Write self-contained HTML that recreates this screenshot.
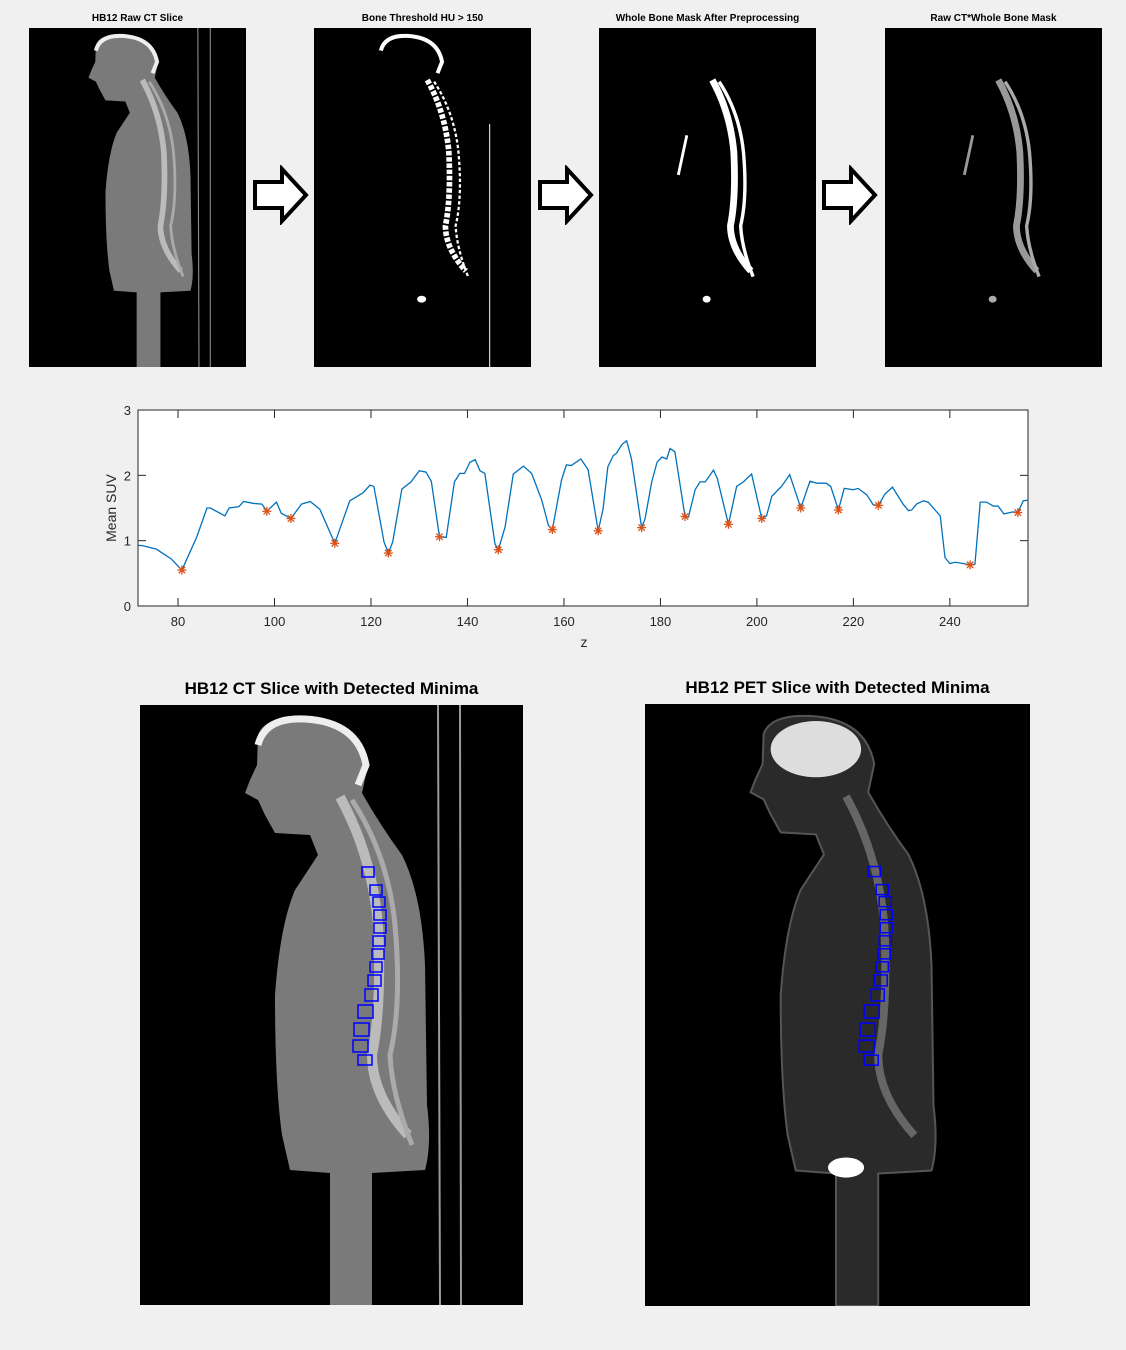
<!DOCTYPE html>
<html><head><meta charset="utf-8"><style>
body{margin:0;background:#f0f0f0;width:1126px;height:1350px;overflow:hidden;font-family:"Liberation Sans",sans-serif}
.t{position:absolute;font-weight:bold;color:#000;text-align:center}
svg{position:absolute}
</style></head><body>
<svg width="0" height="0" style="position:absolute">
<defs>
<path id="body" d="M118,30 Q125,10 165,12 Q220,15 228,60 L222,88 Q240,120 262,150 Q282,190 285,260 L287,400 Q292,440 285,465 L232,468 L232,600 L190,600 L190,468 L150,465 L142,430 Q135,380 135,290 Q140,220 155,185 L178,150 L170,130 L135,128 L125,110 L118,95 L105,88 L110,75 L117,60 Z"/>
<path id="skull" d="M118,40 Q125,12 165,14 Q218,17 226,60 L218,80"/>
<path id="spine" d="M200,92 Q232,150 238,220 Q242,300 232,350 Q232,390 268,430"/>
<path id="spine2" d="M212,95 Q248,150 255,220 Q262,300 250,350 Q252,390 272,440"/>
</defs></svg>

<div class="t" style="left:29px;top:13px;width:217px;font-size:10px">HB12 Raw CT Slice</div>
<div class="t" style="left:314px;top:13px;width:217px;font-size:10px">Bone Threshold HU &gt; 150</div>
<div class="t" style="left:580px;top:13px;width:255px;font-size:10px">Whole Bone Mask After Preprocessing</div>
<div class="t" style="left:885px;top:13px;width:217px;font-size:10px">Raw CT*Whole Bone Mask</div>

<svg style="left:29px;top:28px" width="217" height="339" viewBox="0 0 383 600" preserveAspectRatio="none">
<rect width="383" height="600" fill="#000"/>
<use href="#body" fill="#7a7a7a"/>
<use href="#skull" fill="none" stroke="#eee" stroke-width="7"/>
<use href="#spine" fill="none" stroke="#bbb" stroke-width="10"/>
<use href="#spine2" fill="none" stroke="#aaa" stroke-width="5"/>
<line x1="298" y1="0" x2="300" y2="600" stroke="#888" stroke-width="2"/><line x1="320" y1="0" x2="320" y2="600" stroke="#888" stroke-width="2"/>
</svg>
<svg style="left:314px;top:28px" width="217" height="339" viewBox="0 0 383 600" preserveAspectRatio="none">
<rect width="383" height="600" fill="#000"/>
<use href="#skull" fill="none" stroke="#fff" stroke-width="7"/>
<use href="#spine" fill="none" stroke="#fff" stroke-width="10" stroke-dasharray="8 3"/>
<use href="#spine2" fill="none" stroke="#fff" stroke-width="4" stroke-dasharray="6 4"/>
<ellipse cx="190" cy="480" rx="8" ry="6" fill="#fff"/><line x1="310" y1="170" x2="310" y2="600" stroke="#ddd" stroke-width="2"/>
</svg>
<svg style="left:599px;top:28px" width="217" height="339" viewBox="0 0 383 600" preserveAspectRatio="none">
<rect width="383" height="600" fill="#000"/>
<use href="#spine" fill="none" stroke="#fff" stroke-width="12"/>
<use href="#spine2" fill="none" stroke="#fff" stroke-width="6"/>
<path d="M155,190 L140,260" stroke="#fff" stroke-width="5"/><ellipse cx="190" cy="480" rx="7" ry="6" fill="#fff"/>
</svg>
<svg style="left:885px;top:28px" width="217" height="339" viewBox="0 0 383 600" preserveAspectRatio="none">
<rect width="383" height="600" fill="#000"/>
<use href="#spine" fill="none" stroke="#999" stroke-width="12"/>
<use href="#spine2" fill="none" stroke="#aaa" stroke-width="6"/>
<path d="M155,190 L140,260" stroke="#999" stroke-width="5"/><ellipse cx="190" cy="480" rx="7" ry="6" fill="#aaa"/>
</svg>

<svg style="left:250px;top:165px" width="62" height="60"><path d="M5,17 H32 V4 L56,30 L32,56 V43 H5 Z" fill="#fff" stroke="#000" stroke-width="4"/></svg>
<svg style="left:535px;top:165px" width="62" height="60"><path d="M5,17 H32 V4 L56,30 L32,56 V43 H5 Z" fill="#fff" stroke="#000" stroke-width="4"/></svg>
<svg style="left:819px;top:165px" width="62" height="60"><path d="M5,17 H32 V4 L56,30 L32,56 V43 H5 Z" fill="#fff" stroke="#000" stroke-width="4"/></svg>

<svg id="chart" style="left:0;top:390px" width="1126" height="270"></svg>

<div class="t" style="left:140px;top:679px;width:383px;font-size:17px">HB12 CT Slice with Detected Minima</div>
<div class="t" style="left:645px;top:678px;width:385px;font-size:17px">HB12 PET Slice with Detected Minima</div>

<svg style="left:140px;top:705px" width="383" height="600" viewBox="0 0 383 600" preserveAspectRatio="none">
<rect width="383" height="600" fill="#000"/>
<use href="#body" fill="#7a7a7a"/>
<use href="#skull" fill="none" stroke="#eee" stroke-width="7"/>
<use href="#spine" fill="none" stroke="#bbb" stroke-width="10"/>
<use href="#spine2" fill="none" stroke="#aaa" stroke-width="5"/>
<line x1="298" y1="0" x2="300" y2="600" stroke="#999" stroke-width="2"/><line x1="320" y1="0" x2="321" y2="600" stroke="#999" stroke-width="2"/>
<g id="marks" fill="none" stroke="#00f" stroke-width="1.5">
<rect x="222" y="162" width="12" height="10"/><rect x="230" y="180" width="12" height="10"/><rect x="233" y="192" width="12" height="10"/><rect x="234" y="205" width="12" height="10"/><rect x="234" y="218" width="12" height="10"/><rect x="233" y="231" width="12" height="10"/><rect x="232" y="244" width="12" height="10"/><rect x="230" y="257" width="12" height="10"/><rect x="228" y="270" width="13" height="11"/><rect x="225" y="284" width="13" height="12"/><rect x="218" y="300" width="15" height="13"/><rect x="214" y="318" width="15" height="13"/><rect x="213" y="335" width="15" height="12"/><rect x="218" y="350" width="14" height="10"/>
</g>
</svg>
<svg style="left:645px;top:704px" width="385" height="602" viewBox="0 0 383 600" preserveAspectRatio="none">
<rect width="383" height="600" fill="#000"/>
<use href="#body" fill="#2a2a2a" stroke="#555" stroke-width="2"/>
<ellipse cx="170" cy="45" rx="45" ry="28" fill="#ddd"/>
<ellipse cx="200" cy="462" rx="18" ry="10" fill="#fff"/>
<use href="#spine" fill="none" stroke="#666" stroke-width="8"/>
<use href="#marks"/>
</svg>

<script>
const zs=[71.8,72.8,75.5,78.6,80.8,83.9,86,86.7,89.7,90.6,92.6,93.6,95.7,97.4,98.4,100.4,101.4,103.4,105.6,107.4,109.4,112.5,115.6,118.3,119.8,120.6,122.7,123.6,124.5,126.4,128.3,130,131.4,132.5,134.2,135.6,137.3,138.4,139.4,140.5,141.6,142.6,143.6,145.7,146.4,147.8,149.5,151.6,153.3,155.4,156.8,157.6,159.5,160.5,161.5,163.5,165,167.1,168.1,169.1,170.2,170.9,172,173,174,176.1,176.8,178.2,179.3,180.3,181.3,182,183,185.1,185.8,187.2,188.2,189.3,191,191.8,194.1,195.8,197.2,198.9,201,202,203.1,205.1,206.8,209.1,211,212.4,214.4,215.3,216.9,218.1,220,221,222.8,224.1,225.2,226.5,228.1,230.3,231.4,232.1,233.1,234.5,235.5,238,239,240,241.1,242.8,244.2,245.2,246.3,247.6,249,250,251.2,253.1,254.1,255.2,256.2];
const suv=[0.93,0.92,0.87,0.72,0.55,1.06,1.5,1.5,1.38,1.5,1.52,1.6,1.57,1.56,1.45,1.59,1.42,1.34,1.56,1.6,1.48,0.96,1.61,1.73,1.85,1.83,0.98,0.81,0.98,1.79,1.9,2.07,2.05,1.91,1.06,1.05,1.9,2.03,2.03,2.2,2.24,2.07,2.03,0.95,0.86,1.21,2.02,2.14,2.03,1.62,1.23,1.17,1.93,2.16,2.15,2.25,2.09,1.15,1.48,2.13,2.3,2.34,2.47,2.53,2.25,1.2,1.33,1.9,2.2,2.28,2.25,2.41,2.36,1.37,1.36,1.78,1.9,1.9,2.08,1.95,1.25,1.83,1.9,2.02,1.34,1.38,1.68,1.83,2.01,1.5,1.91,1.88,1.88,1.83,1.47,1.8,1.78,1.8,1.7,1.55,1.54,1.71,1.82,1.56,1.46,1.47,1.56,1.61,1.59,1.38,0.74,0.65,0.67,0.65,0.63,0.64,1.59,1.59,1.53,1.53,1.41,1.44,1.43,1.61,1.62];
const minZ=[80.8,98.4,103.4,112.5,123.6,134.2,146.4,157.6,167.1,176.1,185.1,194.1,201,209.1,216.9,225.2,244.2,254.1];
const minV=[0.55,1.45,1.34,0.96,0.81,1.06,0.86,1.17,1.15,1.2,1.37,1.25,1.34,1.5,1.47,1.54,0.63,1.43];
const xTicks=[80,100,120,140,160,180,200,220,240];
const yTicks=[0,1,2,3];
const NS='http://www.w3.org/2000/svg',svg=document.getElementById('chart');
const L=138,R=1028,T=20,B=216,X0=71.7,X1=256.2;
const xs=z=>L+(z-X0)/(X1-X0)*(R-L), ys=v=>B-v/3*(B-T);
function mk(t,a,p){const e=document.createElementNS(NS,t);for(const k in a)e.setAttribute(k,a[k]);(p||svg).appendChild(e);return e;}
const bg=mk('rect',{x:L,y:T,width:R-L,height:B-T,fill:'#fff',stroke:'#262626','stroke-width':1});


xTicks.forEach(t=>{const x=xs(t);mk('line',{x1:x,y1:B,x2:x,y2:B-8,stroke:'#262626'});mk('line',{x1:x,y1:T,x2:x,y2:T+8,stroke:'#262626'});
const tx=mk('text',{x:x,y:B+20,'text-anchor':'middle','font-size':13,fill:'#262626'});tx.textContent=t;

});
yTicks.forEach(t=>{const y=ys(t);mk('line',{x1:L,y1:y,x2:L+8,y2:y,stroke:'#262626'});mk('line',{x1:R,y1:y,x2:R-8,y2:y,stroke:'#262626'});
const tx=mk('text',{x:L-7,y:y+5,'text-anchor':'end','font-size':13,fill:'#262626'});tx.textContent=t;

});
const xl=mk('text',{x:584,y:257,'text-anchor':'middle','font-size':14,fill:'#262626'});xl.textContent='z';


const yl=mk('text',{x:116,y:118,'text-anchor':'middle','font-size':14,fill:'#262626',transform:'rotate(-90 116 118)'});yl.textContent='Mean SUV';


const line=mk('polyline',{points:zs.map((z,i)=>xs(z)+','+ys(suv[i])).join(' '),fill:'none',stroke:'#0072bd','stroke-width':1.3});


minZ.forEach((z,i)=>{const x=xs(z),y=ys(minV[i]),s=4.5;
const g=mk('g',{stroke:'#d95319','stroke-width':1.3});


mk('line',{x1:x-s,y1:y,x2:x+s,y2:y},g);mk('line',{x1:x,y1:y-s,x2:x,y2:y+s},g);
mk('line',{x1:x-3.2,y1:y-3.2,x2:x+3.2,y2:y+3.2},g);mk('line',{x1:x-3.2,y1:y+3.2,x2:x+3.2,y2:y-3.2},g);});
</script>
</body></html>
